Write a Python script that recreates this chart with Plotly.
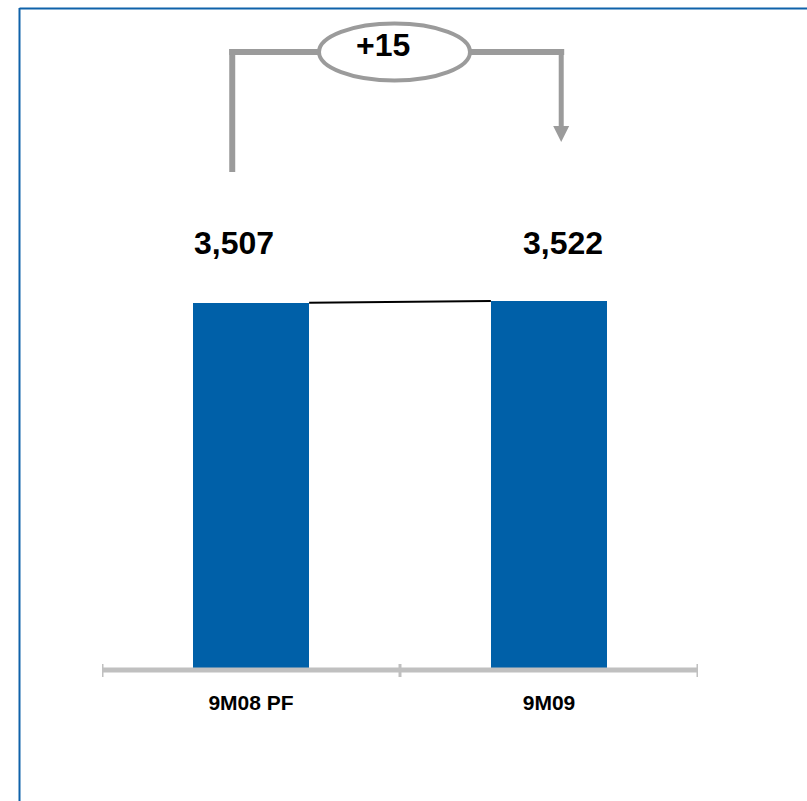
import plotly.graph_objects as go

# Data
categories = ["9M08 PF", "9M09"]
values = [3507, 3522]
value_labels = ["3,507", "3,522"]
change_label = "+15"

# Style
BAR_BLUE = "#0060A8"
FRAME_BLUE = "#0F62AA"
BRACKET_GREY = "#9B9B9B"
AXIS_GREY = "#C0C0C0"
FONT = "Liberation Sans, Arial, Helvetica, sans-serif"

W, H = 807, 801
M_L, M_R, M_T, M_B = 102, 109, 0, 133
PLOT_W = W - M_L - M_R
PLOT_H = H - M_T - M_B
Y_MAX = 6412
BAR_W = 0.39


def px_x(px):
    """Horizontal pixel -> paper coordinate."""
    return (px - M_L) / PLOT_W


def py_y(py):
    """Vertical pixel -> paper coordinate."""
    return 1 - (py - M_T) / PLOT_H


xs = list(range(len(categories)))

fig = go.Figure()
fig.add_trace(go.Bar(
    x=xs, y=values, width=BAR_W,
    marker=dict(color=BAR_BLUE, line=dict(width=0)),
    hoverinfo="skip", showlegend=False,
))

shapes = []
annotations = []

# thin connector between the bar tops
shapes.append(dict(type="line", xref="x", yref="y",
                   x0=xs[0] + BAR_W / 2, y0=values[0],
                   x1=xs[1] - BAR_W / 2, y1=values[1],
                   line=dict(color="black", width=2)))

# category axis line with boundary ticks
shapes.append(dict(type="line", xref="x", yref="paper",
                   x0=-0.5, x1=len(categories) - 0.5,
                   y0=py_y(670), y1=py_y(670),
                   line=dict(color=AXIS_GREY, width=5)))
for b in range(len(categories) + 1):
    shapes.append(dict(type="line", xref="x", yref="paper",
                       x0=b - 0.5, x1=b - 0.5, y0=py_y(664), y1=py_y(677),
                       line=dict(color=AXIS_GREY, width=3)))

# value labels above bars
label_offsets = [-0.058, 0.048]
for i, (v, lab) in enumerate(zip(values, value_labels)):
    annotations.append(dict(x=xs[i] + label_offsets[i], y=py_y(243), xref="x", yref="paper",
                            text=f"<b>{lab}</b>", showarrow=False,
                            xanchor="center", yanchor="middle",
                            font=dict(family=FONT, size=32, color="black")))

# change bracket: up from first label, across, down with arrow to second
bx0 = xs[0] + label_offsets[0] - 0.005
bx1 = xs[1] + label_offsets[1] - 0.007
y_top = py_y(52)
shapes.append(dict(type="line", xref="x", yref="paper",
                   x0=bx0, x1=bx0, y0=py_y(172), y1=py_y(49),
                   line=dict(color=BRACKET_GREY, width=6)))
shapes.append(dict(type="line", xref="x", yref="paper",
                   x0=bx0 - 0.01, x1=bx1 + 0.01, y0=y_top, y1=y_top,
                   line=dict(color=BRACKET_GREY, width=6)))
shapes.append(dict(type="line", xref="x", yref="paper",
                   x0=bx1, x1=bx1, y0=py_y(49), y1=py_y(128),
                   line=dict(color=BRACKET_GREY, width=5)))
# arrow head
ax = M_L + (bx1 + 0.5) * PLOT_W / len(categories)
shapes.append(dict(type="path", xref="paper", yref="paper",
                   path=(f"M {px_x(ax - 8)} {py_y(126)} L {px_x(ax + 8)} {py_y(126)} "
                         f"L {px_x(ax)} {py_y(142)} Z"),
                   fillcolor=BRACKET_GREY, line=dict(width=0)))

# ellipse holding the change
shapes.append(dict(type="circle", xref="paper", yref="paper",
                   x0=px_x(319), x1=px_x(470), y0=py_y(80.5), y1=py_y(23.5),
                   fillcolor="white", line=dict(color=BRACKET_GREY, width=4)))
annotations.append(dict(x=px_x(382.5), y=py_y(45), xref="paper", yref="paper",
                        text=f"<b>{change_label}</b>", showarrow=False,
                        xanchor="center", yanchor="middle",
                        font=dict(family=FONT, size=32, color="black")))

# slide frame (top and left rules)
shapes.append(dict(type="line", xref="paper", yref="paper",
                   x0=px_x(19.5), x1=px_x(W + 5), y0=py_y(8.5), y1=py_y(8.5),
                   line=dict(color=FRAME_BLUE, width=2)))
shapes.append(dict(type="line", xref="paper", yref="paper",
                   x0=px_x(19.5), x1=px_x(19.5), y0=py_y(8), y1=py_y(H + 5),
                   line=dict(color=FRAME_BLUE, width=2)))

fig.update_layout(
    width=W, height=H,
    margin=dict(l=M_L, r=M_R, t=M_T, b=M_B, pad=0),
    paper_bgcolor="white", plot_bgcolor="white",
    shapes=shapes, annotations=annotations,
    bargap=0,
    xaxis=dict(range=[-0.5, len(categories) - 0.5], tickmode="array",
               tickvals=xs, ticktext=[f"<b>{c}</b>" for c in categories],
               tickfont=dict(family=FONT, size=21, color="black"),
               showline=False, showgrid=False, zeroline=False, ticks="",
               ticklabelstandoff=20, fixedrange=True),
    yaxis=dict(range=[0, Y_MAX], visible=False, showgrid=False,
               zeroline=False, fixedrange=True),
)

fig.write_html("out.html", config={"displayModeBar": False})
